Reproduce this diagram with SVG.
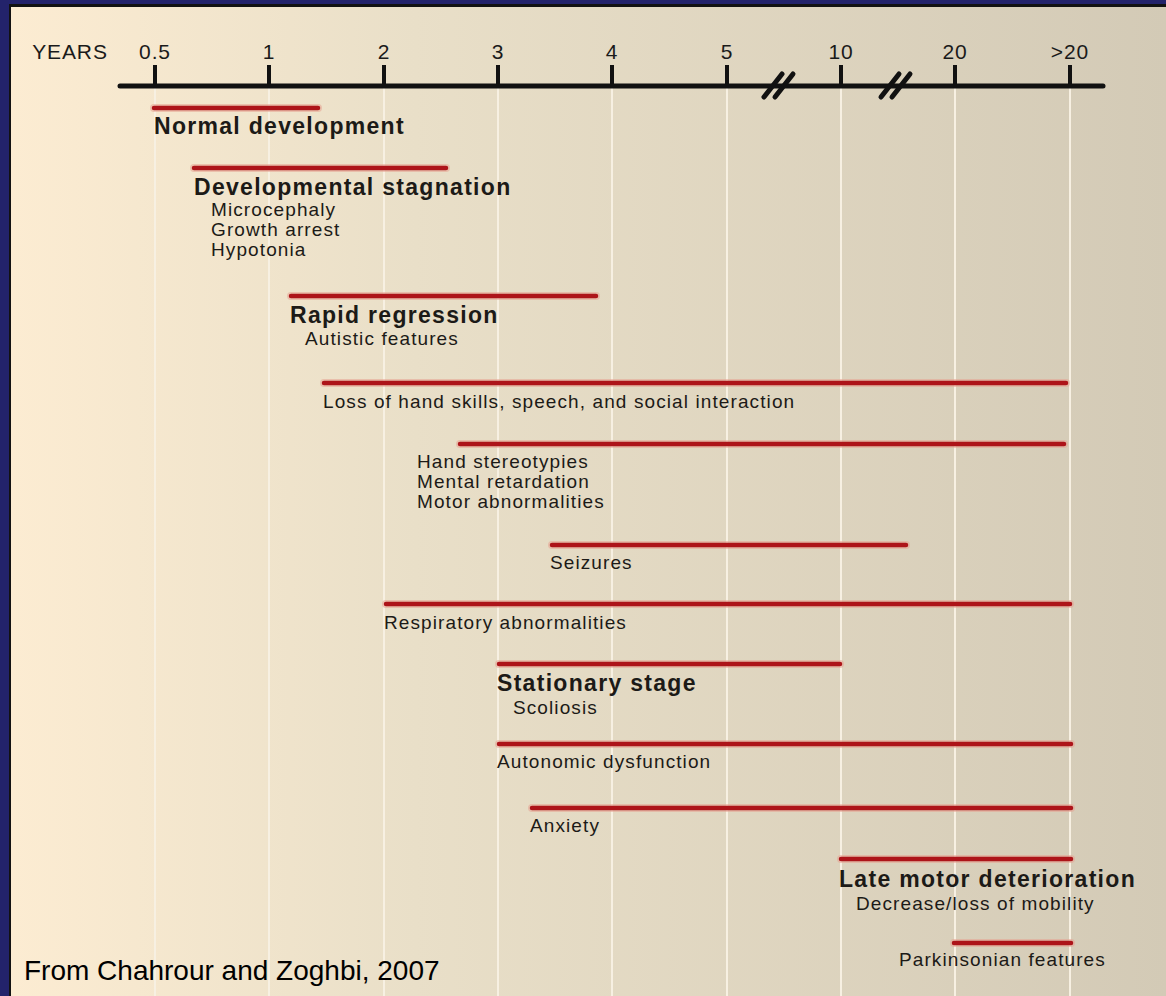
<svg xmlns="http://www.w3.org/2000/svg" width="1166" height="996" viewBox="0 0 1166 996">
<defs>
<linearGradient id="bg" x1="0" y1="0" x2="1" y2="0">
<stop offset="0" stop-color="#fcecd2"/>
<stop offset="0.35" stop-color="#e9dfc8"/>
<stop offset="1" stop-color="#d3cab6"/>
</linearGradient>
</defs>
<style>
.grid{stroke:#f7f0e2;stroke-width:2}
.axis{stroke:#111;stroke-width:5;stroke-linecap:round;fill:none}
.tick{stroke:#111;stroke-width:4}
.tl{font-family:"Liberation Sans",Arial,sans-serif;font-size:21px;fill:#1a1a1a;text-anchor:middle;letter-spacing:0.9px}
.halo{stroke:#e7a392;stroke-width:8;stroke-linecap:round;opacity:0.55}
.bar{stroke:#ad1419;stroke-width:4.5;stroke-linecap:round}
.t{font-family:"Liberation Sans",Arial,sans-serif;font-size:23px;font-weight:bold;fill:#1c1a17;letter-spacing:1.3px}
.s{font-family:"Liberation Sans",Arial,sans-serif;font-size:19px;fill:#1c1a17;letter-spacing:1.1px}
</style>
<rect x="0" y="0" width="1166" height="996" fill="#23236b"/>
<rect x="9" y="4" width="1157" height="992" fill="#121212"/>
<rect x="11" y="7" width="1155" height="989" fill="url(#bg)"/>
<g id="gridlines">
<line class="grid" x1="155" y1="88" x2="155" y2="996"/>
<line class="grid" x1="269" y1="88" x2="269" y2="996"/>
<line class="grid" x1="384" y1="88" x2="384" y2="996"/>
<line class="grid" x1="498" y1="88" x2="498" y2="996"/>
<line class="grid" x1="612" y1="88" x2="612" y2="996"/>
<line class="grid" x1="727" y1="88" x2="727" y2="996"/>
<line class="grid" x1="841" y1="88" x2="841" y2="996"/>
<line class="grid" x1="955" y1="88" x2="955" y2="996"/>
<line class="grid" x1="1070" y1="88" x2="1070" y2="996"/>
</g>
<g id="connectors">
<line class="axis" x1="120" y1="86" x2="1103" y2="86"/>
<line class="tick" x1="155" y1="65" x2="155" y2="86"/>
<line class="tick" x1="269" y1="65" x2="269" y2="86"/>
<line class="tick" x1="384" y1="65" x2="384" y2="86"/>
<line class="tick" x1="498" y1="65" x2="498" y2="86"/>
<line class="tick" x1="612" y1="65" x2="612" y2="86"/>
<line class="tick" x1="727" y1="65" x2="727" y2="86"/>
<line class="tick" x1="841" y1="65" x2="841" y2="86"/>
<line class="tick" x1="955" y1="65" x2="955" y2="86"/>
<line class="tick" x1="1070" y1="65" x2="1070" y2="86"/>
<line class="axis" x1="764" y1="97" x2="782" y2="74"/>
<line class="axis" x1="775" y1="97" x2="793" y2="74"/>
<line class="axis" x1="881" y1="97" x2="899" y2="74"/>
<line class="axis" x1="892" y1="97" x2="910" y2="74"/>
</g>
<g id="axis-labels">
<text class="tl" x="70" y="59">YEARS</text>
<text class="tl" x="155" y="59">0.5</text>
<text class="tl" x="269" y="59">1</text>
<text class="tl" x="384" y="59">2</text>
<text class="tl" x="498" y="59">3</text>
<text class="tl" x="612" y="59">4</text>
<text class="tl" x="727" y="59">5</text>
<text class="tl" x="841" y="59">10</text>
<text class="tl" x="955" y="59">20</text>
<text class="tl" x="1070" y="59">&gt;20</text>
</g>
<g id="normal-development">
<line class="halo" x1="154" y1="108" x2="318" y2="108"/><line class="bar" x1="154" y1="108" x2="318" y2="108"/>
<text class="t" x="154" y="134">Normal development</text>
</g>
<g id="developmental-stagnation">
<line class="halo" x1="194" y1="168" x2="446" y2="168"/><line class="bar" x1="194" y1="168" x2="446" y2="168"/>
<text class="t" x="194" y="195">Developmental stagnation</text>
<text class="s" x="211" y="216">Microcephaly</text>
<text class="s" x="211" y="236">Growth arrest</text>
<text class="s" x="211" y="256">Hypotonia</text>
</g>
<g id="rapid-regression">
<line class="halo" x1="291" y1="296" x2="596" y2="296"/><line class="bar" x1="291" y1="296" x2="596" y2="296"/>
<text class="t" x="290" y="323">Rapid regression</text>
<text class="s" x="305" y="345">Autistic features</text>
</g>
<g id="loss-of-hand-skills">
<line class="halo" x1="324" y1="383" x2="1066" y2="383"/><line class="bar" x1="324" y1="383" x2="1066" y2="383"/>
<text class="s" x="323" y="408">Loss of hand skills, speech, and social interaction</text>
</g>
<g id="hand-stereotypies">
<line class="halo" x1="460" y1="444" x2="1064" y2="444"/><line class="bar" x1="460" y1="444" x2="1064" y2="444"/>
<text class="s" x="417" y="468">Hand stereotypies</text>
<text class="s" x="417" y="488">Mental retardation</text>
<text class="s" x="417" y="508">Motor abnormalities</text>
</g>
<g id="seizures">
<line class="halo" x1="552" y1="545" x2="906" y2="545"/><line class="bar" x1="552" y1="545" x2="906" y2="545"/>
<text class="s" x="550" y="569">Seizures</text>
</g>
<g id="respiratory-abnormalities">
<line class="halo" x1="386" y1="604" x2="1070" y2="604"/><line class="bar" x1="386" y1="604" x2="1070" y2="604"/>
<text class="s" x="384" y="629">Respiratory abnormalities</text>
</g>
<g id="stationary-stage">
<line class="halo" x1="499" y1="664" x2="840" y2="664"/><line class="bar" x1="499" y1="664" x2="840" y2="664"/>
<text class="t" x="497" y="691">Stationary stage</text>
<text class="s" x="513" y="714">Scoliosis</text>
</g>
<g id="autonomic-dysfunction">
<line class="halo" x1="499" y1="744" x2="1071" y2="744"/><line class="bar" x1="499" y1="744" x2="1071" y2="744"/>
<text class="s" x="497" y="768">Autonomic dysfunction</text>
</g>
<g id="anxiety">
<line class="halo" x1="532" y1="808" x2="1071" y2="808"/><line class="bar" x1="532" y1="808" x2="1071" y2="808"/>
<text class="s" x="530" y="832">Anxiety</text>
</g>
<g id="late-motor-deterioration">
<line class="halo" x1="841" y1="859" x2="1071" y2="859"/><line class="bar" x1="841" y1="859" x2="1071" y2="859"/>
<text class="t" x="839" y="887">Late motor deterioration</text>
<text class="s" x="856" y="910">Decrease/loss of mobility</text>
</g>
<g id="parkinsonian-features">
<line class="halo" x1="954" y1="943" x2="1071" y2="943"/><line class="bar" x1="954" y1="943" x2="1071" y2="943"/>
<text class="s" x="899" y="966">Parkinsonian features</text>
</g>
<g id="citation">
<text x="24" y="980" font-family="'Liberation Sans',Arial,sans-serif" font-size="28" fill="#000">From Chahrour and Zoghbi, 2007</text>
</g>
</svg>
